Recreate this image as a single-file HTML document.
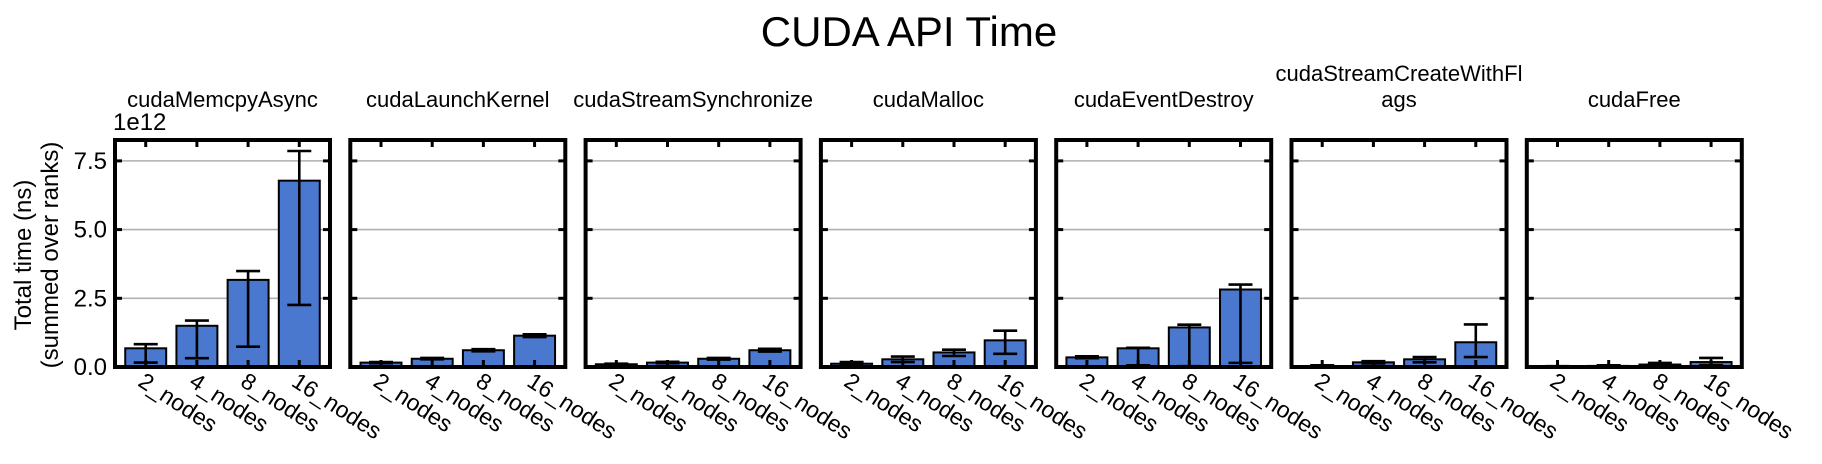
<!DOCTYPE html>
<html><head><meta charset="utf-8"><style>
html,body{margin:0;padding:0;background:#fff}
svg{display:block;font-family:"Liberation Sans",Arial,sans-serif}
</style></head><body>
<svg id="chart" width="1822" height="464" viewBox="0 0 1822 464" xmlns="http://www.w3.org/2000/svg">
<text x="909" y="46" text-anchor="middle" font-size="42">CUDA API Time</text>
<text x="113" y="130" font-size="24">1e12</text>
<text transform="translate(31,255) rotate(-90)" text-anchor="middle" font-size="24"><tspan x="0" dy="0">Total time (ns)</tspan><tspan x="0" dy="27">(summed over ranks)</tspan></text>
<g id="panels"></g>
</svg>
<script>
const panelTitles = [["cudaMemcpyAsync"],["cudaLaunchKernel"],["cudaStreamSynchronize"],["cudaMalloc"],["cudaEventDestroy"],["cudaStreamCreateWithFl","ags"],["cudaFree"]];
const categories = ["2_nodes","4_nodes","8_nodes","16_nodes"];
const values = [
  [0.68,1.50,3.17,6.78],
  [0.16,0.30,0.61,1.14],
  [0.10,0.16,0.30,0.61],
  [0.12,0.28,0.53,0.97],
  [0.35,0.68,1.44,2.82],
  [0.02,0.17,0.28,0.90],
  [0.01,0.04,0.09,0.18]
];
const errLow = [
  [0.16,0.32,0.74,2.26],
  [0.14,0.28,0.57,1.09],
  [0.08,0.14,0.27,0.56],
  [0.05,0.18,0.40,0.48],
  [0.32,0.06,0.03,0.15],
  [0.00,0.13,0.17,0.36],
  [0.00,0.02,0.04,0.07]
];
const errHigh = [
  [0.83,1.69,3.49,7.86],
  [0.18,0.33,0.65,1.19],
  [0.12,0.19,0.33,0.66],
  [0.18,0.38,0.63,1.32],
  [0.39,0.70,1.54,3.00],
  [0.06,0.21,0.36,1.55],
  [0.03,0.06,0.15,0.33]
];
const yTicks = [0, 2.5, 5.0, 7.5];
const yTickLabels = ["0.0","2.5","5.0","7.5"];

const NS="http://www.w3.org/2000/svg";
const top0=140, bot0=367, yMax=8.26, pw=215, pitch=235.3, left0=115;
function yScale(v){return bot0-(v/yMax)*(bot0-top0);}
function xScale(p,i){const x0=left0+p*pitch;return x0+(i+0.6)*(pw/4.2);}
function mk(tag,attrs,parent){const e=document.createElementNS(NS,tag);for(const k in attrs)e.setAttribute(k,attrs[k]);parent.appendChild(e);return e;}
const root=document.getElementById('panels');
for(let p=0;p<values.length;p++){
  const x0=left0+p*pitch;
  const g=mk('g',{},root);
  
  
  const t=mk('text',{x:x0+pw/2,'text-anchor':'middle','font-size':'22'},g);
  
  
  if(panelTitles[p].length===1){t.setAttribute('y',107);t.textContent=panelTitles[p][0];}
  else{const a=mk('tspan',{x:x0+pw/2,y:81},t);a.textContent=panelTitles[p][0];const b=mk('tspan',{x:x0+pw/2,y:107},t);b.textContent=panelTitles[p][1];}
  yTicks.forEach((v,k)=>{
    if(v>0){const gl=mk('line',{x1:x0,x2:x0+pw,y1:yScale(v),y2:yScale(v),stroke:'#b0b0b0','stroke-width':1.6},g);
    
    }
    mk('line',{x1:x0,x2:x0+7,y1:yScale(v),y2:yScale(v),stroke:'#000','stroke-width':3},g);
    mk('line',{x1:x0+pw-7,x2:x0+pw,y1:yScale(v),y2:yScale(v),stroke:'#000','stroke-width':3},g);
    if(p===0){const tl=mk('text',{x:x0-8,y:yScale(v)+8,'text-anchor':'end','font-size':'24'},g);tl.textContent=yTickLabels[k];
    
    }
  });
  const bw=0.8*pw/4.2;
  categories.forEach((c,i)=>{
    const cx=xScale(p,i);
    const r=mk('rect',{x:cx-bw/2,y:yScale(values[p][i]),width:bw,height:bot0-yScale(values[p][i]),fill:'#4a78cf',stroke:'#000','stroke-width':2},g);
    
    
    const e=mk('g',{stroke:'#000','stroke-width':2.6},g);
    
    
    mk('line',{x1:cx,x2:cx,y1:yScale(errLow[p][i]),y2:yScale(errHigh[p][i])},e);
    mk('line',{x1:cx-12,x2:cx+12,y1:yScale(errLow[p][i]),y2:yScale(errLow[p][i])},e);
    mk('line',{x1:cx-12,x2:cx+12,y1:yScale(errHigh[p][i]),y2:yScale(errHigh[p][i])},e);
    mk('line',{x1:cx,x2:cx,y1:top0,y2:top0+7,stroke:'#000','stroke-width':3},g);
    mk('line',{x1:cx,x2:cx,y1:bot0-7,y2:bot0,stroke:'#000','stroke-width':3},g);
    const xl=mk('text',{transform:`translate(${cx-9},${bot0+18}) rotate(33)`,'font-size':'23'},g);
    xl.textContent=c;
    
    
  });
  const fr=mk('rect',{x:x0,y:top0,width:pw,height:bot0-top0,fill:'none',stroke:'#000','stroke-width':4},g);
  
  
}
</script>
</body></html>
